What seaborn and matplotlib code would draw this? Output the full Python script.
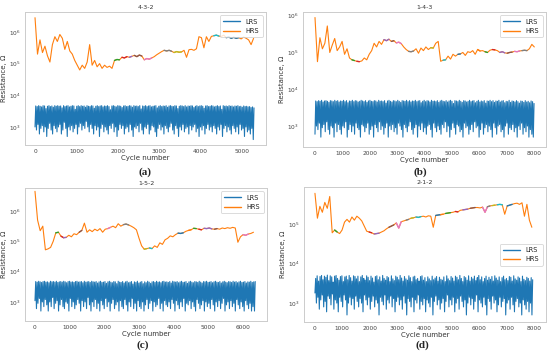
import numpy as np
import matplotlib
matplotlib.use('Agg')
import matplotlib.pyplot as plt
from matplotlib.ticker import MultipleLocator, NullLocator
import seaborn as sns

sns.set_style('white')
plt.rcParams['font.family'] = ['DejaVu Sans']

# ---------------- data ----------------
titles = ['4-3-2', '1-4-3', '1-5-2', '2-1-2']
letters = ['(a)', '(b)', '(c)', '(d)']

# HRS, log10(Ohm), one value every hrs_step cycles
hrs_step = [60, 90, 75, 90]
hrs_a = [6.45, 5.30, 5.75, 5.35, 5.55, 5.25, 5.05, 5.60, 5.85, 5.70,
         5.92, 5.80, 5.45, 5.70, 5.40, 5.30, 5.10, 4.95, 4.80, 4.95,
         4.85, 5.05, 5.60, 4.95, 5.10, 4.90, 5.00, 4.85, 4.95, 4.88,
         4.92, 4.85, 5.10, 5.13, 5.12, 5.20, 5.18, 5.22, 5.20, 5.23,
         5.26, 5.22, 5.27, 5.24, 5.12, 5.16, 5.14, 5.18, 5.22, 5.28,
         5.33, 5.38, 5.42, 5.40, 5.42, 5.39, 5.35, 5.38, 5.36, 5.37,
         5.42, 5.20, 5.44, 5.45, 5.42, 5.47, 5.85, 5.82, 5.50, 5.85,
         5.70, 5.86, 5.88, 5.90, 5.87, 5.86, 5.90, 5.82, 5.84, 5.80,
         5.83, 5.80, 5.82, 5.78, 5.84, 5.80, 5.75, 5.60, 5.80]
hrs_b = [5.95, 4.75, 5.40, 5.10, 5.25, 5.72, 5.00, 5.20, 5.38, 5.05,
         5.15, 5.30, 4.95, 5.10, 4.85, 4.80, 4.78, 4.76, 4.75, 4.77,
         4.85, 4.80, 4.95, 5.05, 5.25, 5.15, 5.30, 5.22, 5.35, 5.32,
         5.36, 5.30, 5.32, 5.26, 5.28, 5.24, 5.15, 5.08, 5.03, 5.02,
         5.04, 5.10, 4.98, 5.12, 5.05, 5.15, 5.08, 5.13, 5.12, 5.25,
         5.30, 4.76, 4.79, 4.80, 4.90, 4.82, 4.95, 4.90, 4.95, 4.96,
         5.00, 4.92, 5.02, 5.00, 5.05, 4.95, 5.08, 5.04, 5.05, 5.02,
         5.00, 5.06, 5.08, 5.07, 5.05, 5.00, 5.02, 4.99, 4.98, 5.00,
         5.01, 5.03, 5.02, 5.04, 5.05, 5.06, 5.05, 5.10, 5.22, 5.15]
hrs_c = [6.65, 5.70, 5.35, 5.50, 4.72, 4.75, 4.80, 5.00, 5.28, 5.30,
         5.17, 5.12, 5.13, 5.20, 5.15, 5.25, 5.22, 5.30, 5.36, 5.60,
         5.30, 5.38, 5.32, 5.40, 5.35, 5.42, 5.30, 5.40, 5.42, 5.46,
         5.50, 5.45, 5.58, 5.50, 5.55, 5.57, 5.54, 5.50, 5.45, 5.38,
         5.10, 4.85, 4.74, 4.76, 4.78, 4.76, 4.85, 4.80, 4.95, 4.90,
         5.05, 5.10, 5.18, 5.15, 5.22, 5.27, 5.26, 5.28, 5.33, 5.36,
         5.38, 5.43, 5.42, 5.40, 5.38, 5.43, 5.42, 5.44, 5.41, 5.40,
         5.42, 5.40, 5.44, 5.42, 5.45, 5.43, 5.46, 5.44, 4.97, 5.15,
         5.22, 5.20, 5.24, 5.26, 5.30]
hrs_d = [5.78, 5.15, 5.45, 5.30, 5.55, 5.40, 5.70, 4.78, 4.85, 4.80,
         4.76, 4.85, 5.05, 5.12, 5.05, 5.18, 5.10, 5.20, 5.15, 5.08,
         4.95, 4.82, 4.80, 4.78, 4.75, 4.76, 4.77, 4.80, 4.83, 4.88,
         4.92, 4.95, 4.98, 5.03, 4.90, 5.06, 5.08, 5.10, 5.12, 5.15,
         5.16, 5.18, 5.17, 5.19, 5.20, 5.18, 5.21, 5.20, 4.92, 5.22,
         5.23, 5.24, 5.25, 5.27, 5.28, 5.29, 5.30, 5.32, 5.31, 5.35,
         5.36, 5.37, 5.38, 5.40, 5.41, 5.42, 5.42, 5.41, 5.43, 5.30,
         5.44, 5.46, 5.47, 5.48, 5.49, 5.50, 5.49, 5.25, 5.46, 5.48,
         5.50, 5.52, 5.53, 5.50, 5.54, 5.20, 5.50, 5.10, 4.92]

# coloured stretches of the HRS curve (cycle ranges)
seg_a = [(1920, 2040), (2100, 2220), (2280, 2340), (2400, 2580), (2640, 2820),
         (3120, 3300), (3360, 3540), (4320, 4440), (4620, 4920)]
seg_b = [(1350, 1440), (1530, 1620), (2520, 2700), (2790, 2880), (2970, 3150),
         (3420, 3600), (4230, 4320), (4680, 4770), (5220, 5310), (5940, 6030),
         (6210, 6300), (6480, 6570), (6750, 6930), (7020, 7200), (7290, 7470),
         (7560, 7740)]
seg_c = [(600, 675), (750, 825), (825, 900), (1275, 1350), (2100, 2175),
         (2550, 2700), (3150, 3225), (3300, 3375), (4125, 4275), (4425, 4500),
         (4575, 4650), (4725, 4800), (4875, 5100), (5175, 5250), (6000, 6150)]
seg_d = [(720, 810), (1980, 2070), (2160, 2340), (2700, 2880), (2970, 3150),
         (3330, 3420), (3510, 3600), (3690, 3870), (4410, 4590), (4590, 4680),
         (4770, 4950), (5130, 5220), (5400, 5580), (5670, 5850), (6120, 6300),
         (6300, 6390), (6480, 6570), (6660, 6840), (7020, 7200)]

# LRS, hundreds of Ohm: upper and lower swings, alternating
lrs_end = [5290, 8000, 6350, 7950]
lrs_a_hi = [46, 44, 47, 45, 43, 47, 46, 38, 45, 47, 44, 46, 42, 47, 45,
            47, 45, 46, 40, 47, 44, 46, 47, 43, 45, 47, 46, 36, 45, 47,
            44, 47, 45, 46, 42, 47, 45, 44, 47, 46, 39, 45, 47, 44, 46,
            47, 43, 46, 45, 47, 44, 35, 46, 47, 45, 43, 47, 46, 45, 41,
            46, 47, 44, 45, 47, 46, 42, 47, 45, 46, 44, 47, 37, 46, 45,
            47, 44, 46, 47, 43, 45, 46, 47, 40, 45, 47, 44, 46, 45, 47,
            42, 46, 47, 45, 44, 47, 46, 38, 45, 47, 46, 44, 47, 43, 46,
            45, 47, 46, 41, 45, 47, 44, 46, 47, 45, 39, 46, 47, 44, 45,
            47, 46, 43, 45, 47, 44, 46, 36, 47, 45, 46, 44, 47, 45, 46,
            43, 46, 45, 47, 44, 45, 42, 46, 44, 45, 43, 44, 41, 43, 40]
lrs_a_lo = [10, 8, 12, 6, 9, 11, 7, 10, 5, 9, 13, 8, 6, 11, 9,
            7, 10, 12, 6, 8, 14, 9, 5, 10, 8, 11, 7, 9, 12, 6,
            10, 13, 8, 11, 9, 15, 10, 7, 12, 9, 6, 11, 8, 10, 5,
            9, 12, 7, 10, 8, 6, 11, 9, 13, 7, 10, 5, 8, 12, 9,
            11, 6, 9, 10, 7, 12, 8, 5, 10, 9, 11, 7, 13, 8, 6,
            10, 9, 12, 6, 8, 11, 10, 7, 5, 9, 12, 8, 10, 6, 11,
            9, 7, 10, 13, 8, 6, 11, 9, 5, 10, 8, 12, 7, 9, 10,
            6, 11, 8, 10, 12, 7, 9, 5, 10, 8, 11, 6, 9, 12, 8,
            10, 7, 11, 9, 6, 10, 8, 12, 5, 9, 11, 7, 10, 8, 6,
            11, 9, 7, 10, 6, 12, 8, 9, 5, 10, 7, 8, 6, 9, 4]
lrs_b_hi = [48, 46, 49, 47, 50, 45, 48, 49, 47, 44, 49, 48, 46, 50, 47,
            49, 45, 48, 47, 50, 46, 49, 43, 48, 47, 50, 46, 49, 48, 45,
            47, 50, 48, 46, 49, 44, 48, 50, 47, 46, 49, 48, 45, 50, 47,
            48, 46, 49, 42, 48, 50, 47, 45, 49, 48, 46, 50, 47, 44, 49,
            48, 47, 50, 46, 49, 45, 48, 47, 50, 46, 48, 49, 43, 47, 50,
            46, 49, 48, 45, 50, 47, 48, 46, 49, 44, 48, 50, 47, 46, 49,
            45, 48, 50, 47, 41, 49, 48, 46, 50, 47, 44, 49, 48, 45, 47,
            50, 46, 48, 49, 43, 47, 50, 45, 48, 46, 49, 42, 48, 47, 50,
            46, 49, 44, 48, 47, 50, 45, 48, 49, 43, 47, 46, 50, 44, 48,
            47, 45, 49, 46, 42, 48, 47, 44, 49, 45, 47, 43, 48, 46, 41]
lrs_b_lo = [6, 10, 8, 12, 5, 9, 11, 7, 13, 8, 6, 10, 9, 5, 12,
            7, 11, 8, 6, 10, 9, 13, 5, 8, 11, 7, 10, 6, 12, 9,
            8, 5, 11, 10, 7, 9, 12, 6, 8, 10, 5, 11, 9, 7, 13,
            8, 10, 6, 9, 12, 5, 10, 8, 11, 7, 9, 6, 12, 10, 8,
            5, 11, 9, 7, 10, 13, 8, 6, 9, 11, 5, 10, 8, 12, 7,
            9, 6, 10, 11, 8, 5, 12, 9, 7, 10, 8, 6, 11, 9, 13,
            7, 10, 5, 8, 12, 9, 6, 11, 10, 7, 8, 5, 12, 9, 10,
            6, 8, 11, 7, 13, 9, 10, 5, 8, 12, 6, 9, 11, 7, 10,
            8, 5, 12, 9, 6, 10, 11, 7, 8, 5, 10, 12, 6, 9, 8,
            11, 7, 9, 5, 10, 8, 12, 6, 9, 7, 10, 5, 8, 6, 5]
lrs_c_hi = [47, 45, 48, 46, 44, 47, 48, 45, 46, 43, 48, 46, 47, 45, 48,
            44, 46, 47, 45, 48, 46, 43, 47, 48, 45, 46, 44, 47, 48, 45,
            46, 47, 43, 48, 45, 46, 47, 44, 48, 46, 45, 47, 42, 46, 48,
            44, 45, 47, 41, 46, 48, 45, 43, 47, 46, 40, 48, 45, 44, 47,
            42, 46, 48, 43, 45, 47, 39, 46, 44, 48, 42, 45, 47, 40, 46,
            43, 48, 45, 41, 46, 47, 44, 48, 45, 46, 43, 47, 48, 45, 46,
            44, 47, 42, 48, 46, 45, 47, 43, 46, 48, 44, 45, 47, 41, 46,
            48, 45, 43, 47, 46, 44, 48, 45, 42, 47, 46, 48, 44, 45, 47,
            43, 46, 48, 45, 44, 47, 42, 46, 48, 45, 43, 47, 46, 44, 48,
            45, 47, 43, 46, 48, 44, 45, 47, 42, 46, 45, 48, 44, 46, 47]
lrs_c_lo = [11, 6, 9, 13, 5, 10, 7, 12, 8, 5, 10, 7, 14, 6, 9,
            11, 5, 8, 12, 7, 6, 10, 9, 5, 13, 7, 10, 6, 8, 12,
            9, 5, 11, 7, 10, 6, 14, 8, 5, 10, 7, 12, 6, 9, 5,
            11, 8, 6, 13, 7, 10, 5, 9, 12, 6, 8, 10, 5, 11, 7,
            6, 12, 8, 5, 10, 7, 13, 6, 9, 5, 11, 7, 6, 10, 5,
            8, 12, 6, 9, 11, 5, 10, 7, 8, 13, 6, 9, 5, 11, 8,
            7, 10, 6, 12, 9, 5, 11, 8, 6, 10, 7, 13, 5, 9, 8,
            11, 6, 10, 7, 5, 12, 9, 6, 8, 11, 5, 10, 7, 9, 6,
            12, 8, 5, 10, 7, 11, 6, 9, 13, 5, 8, 10, 6, 11, 7,
            9, 5, 12, 8, 6, 10, 7, 5, 11, 8, 6, 9, 5, 7, 5]
lrs_d_hi = [42, 49, 36, 47, 50, 39, 48, 45, 51, 37, 49, 46, 34, 48, 50,
            42, 38, 47, 49, 35, 46, 48, 39, 50, 44, 36, 49, 47, 41, 48,
            35, 46, 50, 42, 38, 49, 45, 37, 48, 43, 34, 47, 49, 39, 46,
            36, 50, 42, 38, 47, 44, 35, 49, 41, 37, 48, 45, 39, 50, 43,
            36, 47, 41, 38, 49, 44, 35, 46, 48, 39, 42, 36, 47, 49, 38,
            44, 35, 46, 41, 37, 48, 39, 43, 47, 36, 45, 40, 38, 46, 35,
            49, 41, 37, 47, 43, 36, 48, 45, 39, 50, 42, 35, 47, 44, 38,
            49, 36, 45, 41, 48, 37, 44, 50, 39, 46, 35, 42, 48, 38, 45,
            40, 47, 36, 49, 43, 38, 46, 35, 44, 48, 39, 42, 37, 47, 45,
            36, 49, 41, 38, 46, 43, 35, 48, 40, 37, 45, 42, 36, 44, 39]
lrs_d_lo = [18, 10, 14, 7, 12, 16, 8, 11, 6, 15, 13, 9, 17, 7, 12,
            10, 6, 14, 11, 8, 16, 12, 5, 10, 14, 9, 13, 7, 15, 11,
            8, 13, 10, 6, 16, 12, 9, 14, 7, 11, 15, 8, 12, 10, 5,
            14, 11, 9, 16, 7, 12, 10, 15, 8, 13, 6, 11, 14, 9, 12,
            7, 15, 10, 5, 13, 11, 8, 14, 6, 12, 10, 16, 7, 11, 9,
            13, 6, 12, 10, 8, 14, 5, 11, 15, 9, 12, 7, 10, 13, 6,
            11, 16, 8, 12, 9, 14, 6, 10, 13, 7, 15, 11, 8, 12, 5,
            10, 14, 9, 13, 7, 11, 16, 6, 12, 10, 8, 14, 9, 5, 13,
            11, 7, 15, 10, 12, 6, 9, 14, 8, 11, 13, 5, 10, 12, 7,
            14, 9, 6, 11, 13, 8, 10, 5, 12, 9, 7, 11, 6, 10, 5]

hrs_all = [hrs_a, hrs_b, hrs_c, hrs_d]
seg_all = [seg_a, seg_b, seg_c, seg_d]
lrs_hi_all = [lrs_a_hi, lrs_b_hi, lrs_c_hi, lrs_d_hi]
lrs_lo_all = [lrs_a_lo, lrs_b_lo, lrs_c_lo, lrs_d_lo]

# ---------------- layout / style ----------------
W, H = 550, 355
# axes boxes in pixels: left, top, right, bottom
boxes = [(25, 12, 266, 145), (303, 12, 546, 147),
         (25, 188, 267, 321), (304, 187, 546, 322)]
ylims = [(2.43, 6.63), (2.43, 6.10), (2.37, 6.76), (2.52, 5.94)]
xlims = [(-242, 5580), (-438, 8437), (-288, 6690), (-400, 8437)]
legend_loc = ['upper right', 'upper right', 'upper right', 'center right']
letter_pos = [(145, 172), (420, 172), (143, 345), (422, 345)]
# tab10 order continues after LRS (C0) and HRS (C1)
seg_cycle = ['C2', 'C3', 'C4', 'C5', 'C6', 'C7', 'C8', 'C9', 'C0', 'C1']

fig = plt.figure(figsize=(W / 100, H / 100), dpi=100)

for k in range(4):
    l, t, r, b = boxes[k]
    ax = fig.add_axes([l / W, 1 - b / H, (r - l) / W, (b - t) / H])

    lo = lrs_lo_all[k]
    hi = lrs_hi_all[k]
    lrs = np.empty(len(lo) + len(hi))
    lrs[0::2] = lo
    lrs[1::2] = hi
    lrs = lrs * 100
    lrs_x = np.linspace(0, lrs_end[k], len(lrs))

    hrs = 10 ** np.array(hrs_all[k])
    hrs_x = np.arange(len(hrs)) * hrs_step[k]

    sns.lineplot(x=lrs_x, y=lrs, ax=ax, color='C0', linewidth=0.8,
                 estimator=None, sort=False, label='LRS')
    sns.lineplot(x=hrs_x, y=hrs, ax=ax, color='C1', linewidth=0.8,
                 estimator=None, sort=False, label='HRS')
    for j, (s, e) in enumerate(seg_all[k]):
        m = (hrs_x >= s) & (hrs_x <= e)
        sns.lineplot(x=hrs_x[m], y=hrs[m], ax=ax, color=seg_cycle[j % 10],
                     linewidth=1.0, estimator=None, sort=False)

    ax.set_yscale('log')
    ax.set_ylim(10 ** ylims[k][0], 10 ** ylims[k][1])
    ax.set_xlim(*xlims[k])
    ax.xaxis.set_major_locator(MultipleLocator(1000))
    ax.yaxis.set_minor_locator(NullLocator())

    ax.set_title(titles[k], fontsize=4.5, color='#333333', pad=2.5)
    ax.set_xlabel('Cycle number', fontsize=5, color='#333333', labelpad=0.5)
    ax.set_ylabel('Resistance, Ω', fontsize=5, color='#333333', labelpad=1)
    ax.tick_params(labelsize=4.2, length=2, width=0.5, colors='#444444', pad=1.2)
    for sp in ax.spines.values():
        sp.set_visible(True)
        sp.set_color('#cccccc')
        sp.set_linewidth(0.7)

    leg = ax.legend(loc=legend_loc[k], fontsize=4.8, frameon=True,
                    handlelength=2.6, borderpad=0.5, labelspacing=0.5)
    leg.get_frame().set_edgecolor('#cccccc')
    leg.get_frame().set_linewidth(0.6)
    for line in leg.get_lines():
        line.set_linewidth(1.0)

    lx, ly = letter_pos[k]
    fig.text(lx / W, 1 - ly / H, letters[k], fontsize=8, fontweight='bold',
             family=['Liberation Serif', 'DejaVu Serif'], ha='center', va='center')

plt.savefig('out.png', dpi=100)
